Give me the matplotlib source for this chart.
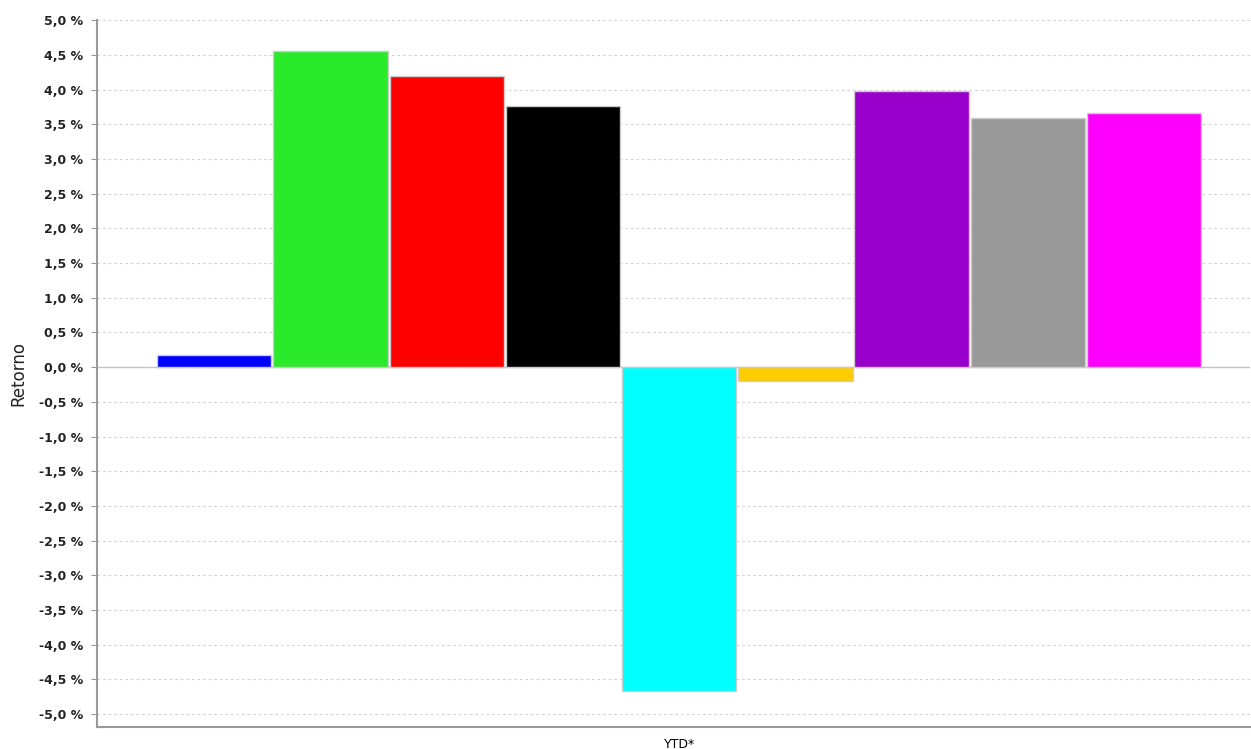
import matplotlib
matplotlib.use("Agg")
import matplotlib.pyplot as plt
from matplotlib.ticker import FuncFormatter, MultipleLocator

series = ["S1", "S2", "S3", "S4", "S5", "S6", "S7", "S8", "S9"]
values = [0.17, 4.55, 4.19, 3.76, -4.67, -0.20, 3.98, 3.59, 3.67]
colors = ["#0000ff", "#2aea2a", "#ff0000", "#000000", "#00ffff",
          "#ffcc00", "#9900cc", "#999999", "#ff00ff"]
category = "YTD*"

fig = plt.figure(figsize=(12.51, 7.49), dpi=100)
ax = fig.add_axes([0.0775, 0.029, 0.9215, 0.944])

x = [i + 0.008 for i in range(len(values))]
ax.bar(x, values, width=0.984, align="edge", color=colors,
       edgecolor="#cccccc", linewidth=1.0, zorder=3)

ax.set_xlim(-0.51, 9.41)
ax.set_ylim(-5.19, 5.0)
ax.yaxis.set_major_locator(MultipleLocator(0.5))
ax.yaxis.set_major_formatter(FuncFormatter(lambda v, p: f"{v:.1f} %".replace(".", ",").replace("-0,0", "0,0")))
ax.grid(axis="y", color="#d4d4d4", linestyle=(0, (2.5, 2.5)), linewidth=0.8, zorder=0)
ax.axhline(0, color="#c4c4c4", linewidth=1.0, zorder=2)

ax.set_xticks([4.5])
ax.set_xticklabels([category], fontsize=9)
ax.tick_params(axis="x", length=0, pad=8)
ax.tick_params(axis="y", length=4, color="#999999", labelsize=9, pad=6)
for lab in ax.get_yticklabels():
    lab.set_fontweight("bold")
    lab.set_color("#222222")

for s in ["top", "right"]:
    ax.spines[s].set_visible(False)
for s in ["left", "bottom"]:
    ax.spines[s].set_color("#999999")
    ax.spines[s].set_linewidth(1.5)

ax.set_ylabel("Retorno", fontsize=12, labelpad=8, color="#222222")

fig.savefig("out.png", dpi=100)
